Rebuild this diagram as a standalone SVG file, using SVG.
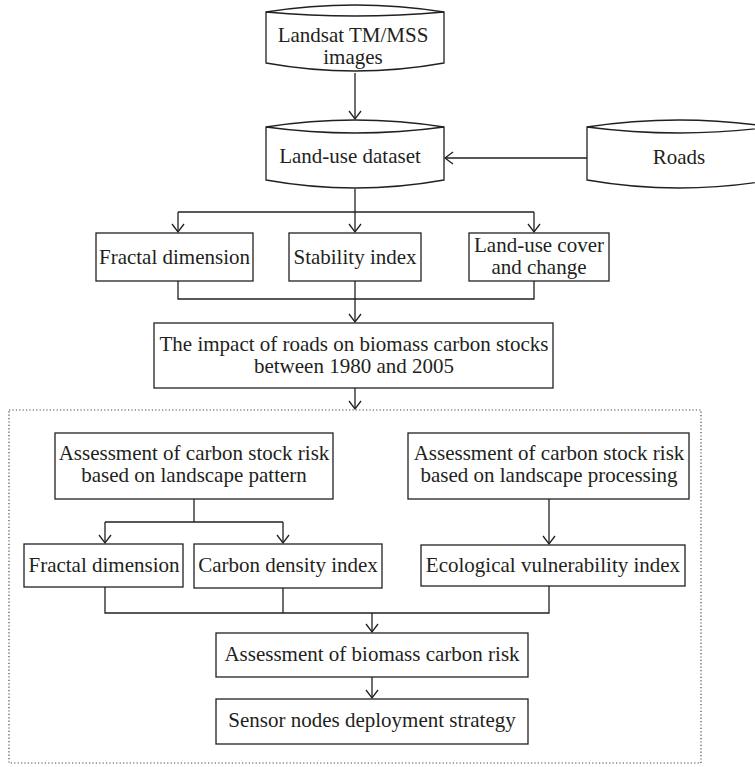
<svg xmlns="http://www.w3.org/2000/svg" width="755" height="767" viewBox="0 0 755 767">
<defs>
<style>
.shape{fill:#fff;stroke:#231f20;stroke-width:1.3}
.line{fill:none;stroke:#231f20;stroke-width:1.3}
.arr{fill:none;stroke:#231f20;stroke-width:1.3;marker-end:url(#ah)}
.t{font-family:"Liberation Serif","Times New Roman",serif;font-size:21px;fill:#231f20;text-anchor:middle}
.dot{fill:none;stroke:#444;stroke-width:1.2;stroke-dasharray:1.2 2.2}
</style>
<marker id="ah" markerUnits="userSpaceOnUse" markerWidth="12" markerHeight="16" viewBox="-10 -8 12 16" refX="0" refY="0" orient="auto">
<path d="M-8,-6 L0,0 L-8,6" fill="none" stroke="#231f20" stroke-width="1.3"/>
</marker>
</defs>
<rect width="755" height="767" fill="#fff"/>

<g id="landsat">
<path class="shape" d="M266,12 Q355,-2 444,12 V63 Q355,79 266,63 Z"/>
<path class="line" d="M266,12 Q355,20 444,12"/>
<text class="t" x="353" y="42">Landsat TM/MSS</text>
<text class="t" x="353" y="64">images</text>
</g>

<g id="landuse">
<path class="shape" d="M266,127 Q355,113 444,127 V180 Q355,196 266,180 Z"/>
<path class="line" d="M266,127 Q355,139 444,127"/>
<text class="t" x="350" y="163">Land-use dataset</text>
</g>

<g id="roads">
<path class="shape" d="M587,127 Q679,113 771,127 V180 Q679,196 587,180 Z"/>
<path class="line" d="M587,127 Q679,139 771,127"/>
<text class="t" x="679" y="164">Roads</text>
</g>

<g id="fractal1">
<rect class="shape" x="96" y="233" width="157" height="48"/>
<text class="t" x="174.5" y="264">Fractal dimension</text>
</g>
<g id="stability">
<rect class="shape" x="289" y="233" width="132" height="48"/>
<text class="t" x="355" y="264">Stability index</text>
</g>
<g id="landcover">
<rect class="shape" x="469" y="233" width="140" height="48"/>
<text class="t" x="539" y="252">Land-use cover</text>
<text class="t" x="539" y="274">and change</text>
</g>

<g id="impact">
<rect class="shape" x="154" y="323" width="399" height="65"/>
<text class="t" x="354" y="351">The impact of roads on biomass carbon stocks</text>
<text class="t" x="354" y="373">between 1980 and 2005</text>
</g>

<g id="group">
<rect class="dot" x="9" y="410" width="692" height="353"/>
</g>

<g id="pattern">
<rect class="shape" x="55" y="433" width="278" height="66"/>
<text class="t" x="194" y="460">Assessment of carbon stock risk</text>
<text class="t" x="194" y="482">based on landscape pattern</text>
</g>
<g id="processing">
<rect class="shape" x="408" y="433" width="281" height="66"/>
<text class="t" x="549" y="460">Assessment of carbon stock risk</text>
<text class="t" x="549" y="482">based on landscape processing</text>
</g>

<g id="fractal2">
<rect class="shape" x="24" y="544" width="159" height="43"/>
<text class="t" x="104" y="572">Fractal dimension</text>
</g>
<g id="carbon">
<rect class="shape" x="194" y="544" width="188" height="44"/>
<text class="t" x="288" y="572">Carbon density index</text>
</g>
<g id="ecological">
<rect class="shape" x="421" y="545" width="264" height="41"/>
<text class="t" x="553" y="572">Ecological vulnerability index</text>
</g>

<g id="biomass">
<rect class="shape" x="216" y="633" width="312" height="44"/>
<text class="t" x="372" y="661">Assessment of biomass carbon risk</text>
</g>
<g id="sensor">
<rect class="shape" x="216" y="699" width="312" height="45"/>
<text class="t" x="372" y="727">Sensor nodes deployment strategy</text>
</g>

<g id="connectors">
<path class="arr" d="M355,73 V119"/>
<path class="arr" d="M587,158 H445"/>
<path class="line" d="M355,189 V212"/>
<path class="line" d="M178,212 H534"/>
<path class="arr" d="M178,212 V232"/>
<path class="arr" d="M355,212 V232"/>
<path class="arr" d="M534,212 V232"/>
<path class="line" d="M178,281 V299 H534 V281"/>
<path class="arr" d="M355,281 V322"/>
<path class="arr" d="M355,388 V409"/>
<path class="line" d="M194,499 V522 M105,522 H283"/>
<path class="arr" d="M105,522 V543"/>
<path class="arr" d="M283,522 V543"/>
<path class="arr" d="M549,499 V544"/>
<path class="line" d="M105,587 V613 H549 V586 M283,588 V613"/>
<path class="arr" d="M372,613 V632"/>
<path class="arr" d="M372,677 V698"/>
</g>
</svg>
